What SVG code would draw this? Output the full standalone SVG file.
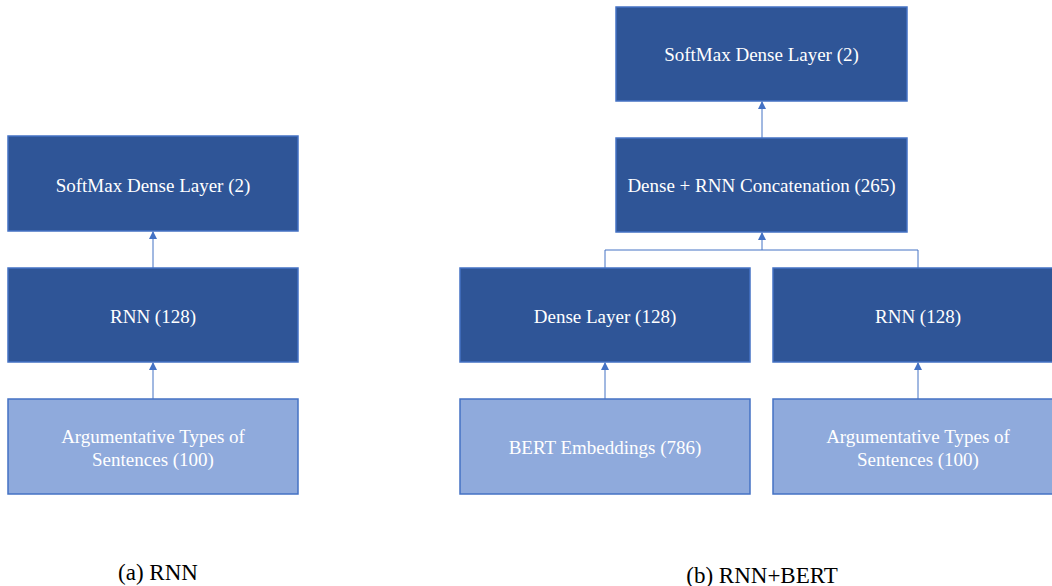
<svg xmlns="http://www.w3.org/2000/svg" width="1052" height="586" viewBox="0 0 1052 586">
  <defs>
    <style>
      .layer { fill: #2F5597; stroke: #4472C4; stroke-width: 1.5; }
      .input { fill: #8FAADC; stroke: #4472C4; stroke-width: 1.5; }
      .lbl { font-family: 'Liberation Serif', 'DejaVu Serif', serif; font-size: 19px; fill: #ffffff; text-anchor: middle; }
      .cap { font-family: 'Liberation Serif', 'DejaVu Serif', serif; font-size: 23px; fill: #000000; text-anchor: middle; }
      .wire { fill: none; stroke: #4472C4; stroke-width: 1; }
    </style>
    <marker id="tip" viewBox="0 0 8 8" refX="7" refY="4" markerWidth="8" markerHeight="8" markerUnits="userSpaceOnUse" orient="auto">
      <path d="M0,0 L8,4 L0,8 z" fill="#4472C4"/>
    </marker>
  </defs>

  <rect width="1052" height="586" fill="#ffffff"/>

  <!-- (a) RNN -->
  <g id="a-softmax">
    <rect class="layer" x="8" y="136" width="290" height="95"/>
    <text class="lbl" x="153" y="192">SoftMax Dense Layer (2)</text>
  </g>
  <g id="a-rnn">
    <rect class="layer" x="8" y="268" width="290" height="94"/>
    <text class="lbl" x="153" y="323">RNN (128)</text>
  </g>
  <g id="a-input">
    <rect class="input" x="8" y="399" width="290" height="95"/>
    <text class="lbl" x="153" y="443">Argumentative Types of</text>
    <text class="lbl" x="153" y="466">Sentences (100)</text>
  </g>

  <!-- (b) RNN+BERT -->
  <g id="b-softmax">
    <rect class="layer" x="616" y="7" width="291" height="94"/>
    <text class="lbl" x="761.5" y="61">SoftMax Dense Layer (2)</text>
  </g>
  <g id="b-concat">
    <rect class="layer" x="616" y="138" width="291" height="94"/>
    <text class="lbl" x="761.5" y="192">Dense + RNN Concatenation (265)</text>
  </g>
  <g id="b-dense">
    <rect class="layer" x="460" y="268" width="290" height="94"/>
    <text class="lbl" x="605" y="323">Dense Layer (128)</text>
  </g>
  <g id="b-rnn">
    <rect class="layer" x="773" y="268" width="290" height="94"/>
    <text class="lbl" x="918" y="323">RNN (128)</text>
  </g>
  <g id="b-bert">
    <rect class="input" x="460" y="399" width="290" height="95"/>
    <text class="lbl" x="605" y="454">BERT Embeddings (786)</text>
  </g>
  <g id="b-input">
    <rect class="input" x="773" y="399" width="290" height="95"/>
    <text class="lbl" x="918" y="443">Argumentative Types of</text>
    <text class="lbl" x="918" y="466">Sentences (100)</text>
  </g>

  <!-- connectors -->
  <g id="connectors">
    <line class="wire" x1="153" y1="268" x2="153" y2="232" marker-end="url(#tip)"/>
    <line class="wire" x1="153" y1="399" x2="153" y2="363" marker-end="url(#tip)"/>
    <line class="wire" x1="762" y1="138" x2="762" y2="102" marker-end="url(#tip)"/>
    <polyline class="wire" points="605,268 605,250 918,250 918,268"/>
    <line class="wire" x1="762" y1="250" x2="762" y2="233" marker-end="url(#tip)"/>
    <line class="wire" x1="605" y1="399" x2="605" y2="363" marker-end="url(#tip)"/>
    <line class="wire" x1="918" y1="399" x2="918" y2="363" marker-end="url(#tip)"/>
  </g>

  <!-- captions -->
  <text class="cap" x="158" y="580">(a) RNN</text>
  <text class="cap" x="762" y="583">(b) RNN+BERT</text>
</svg>
